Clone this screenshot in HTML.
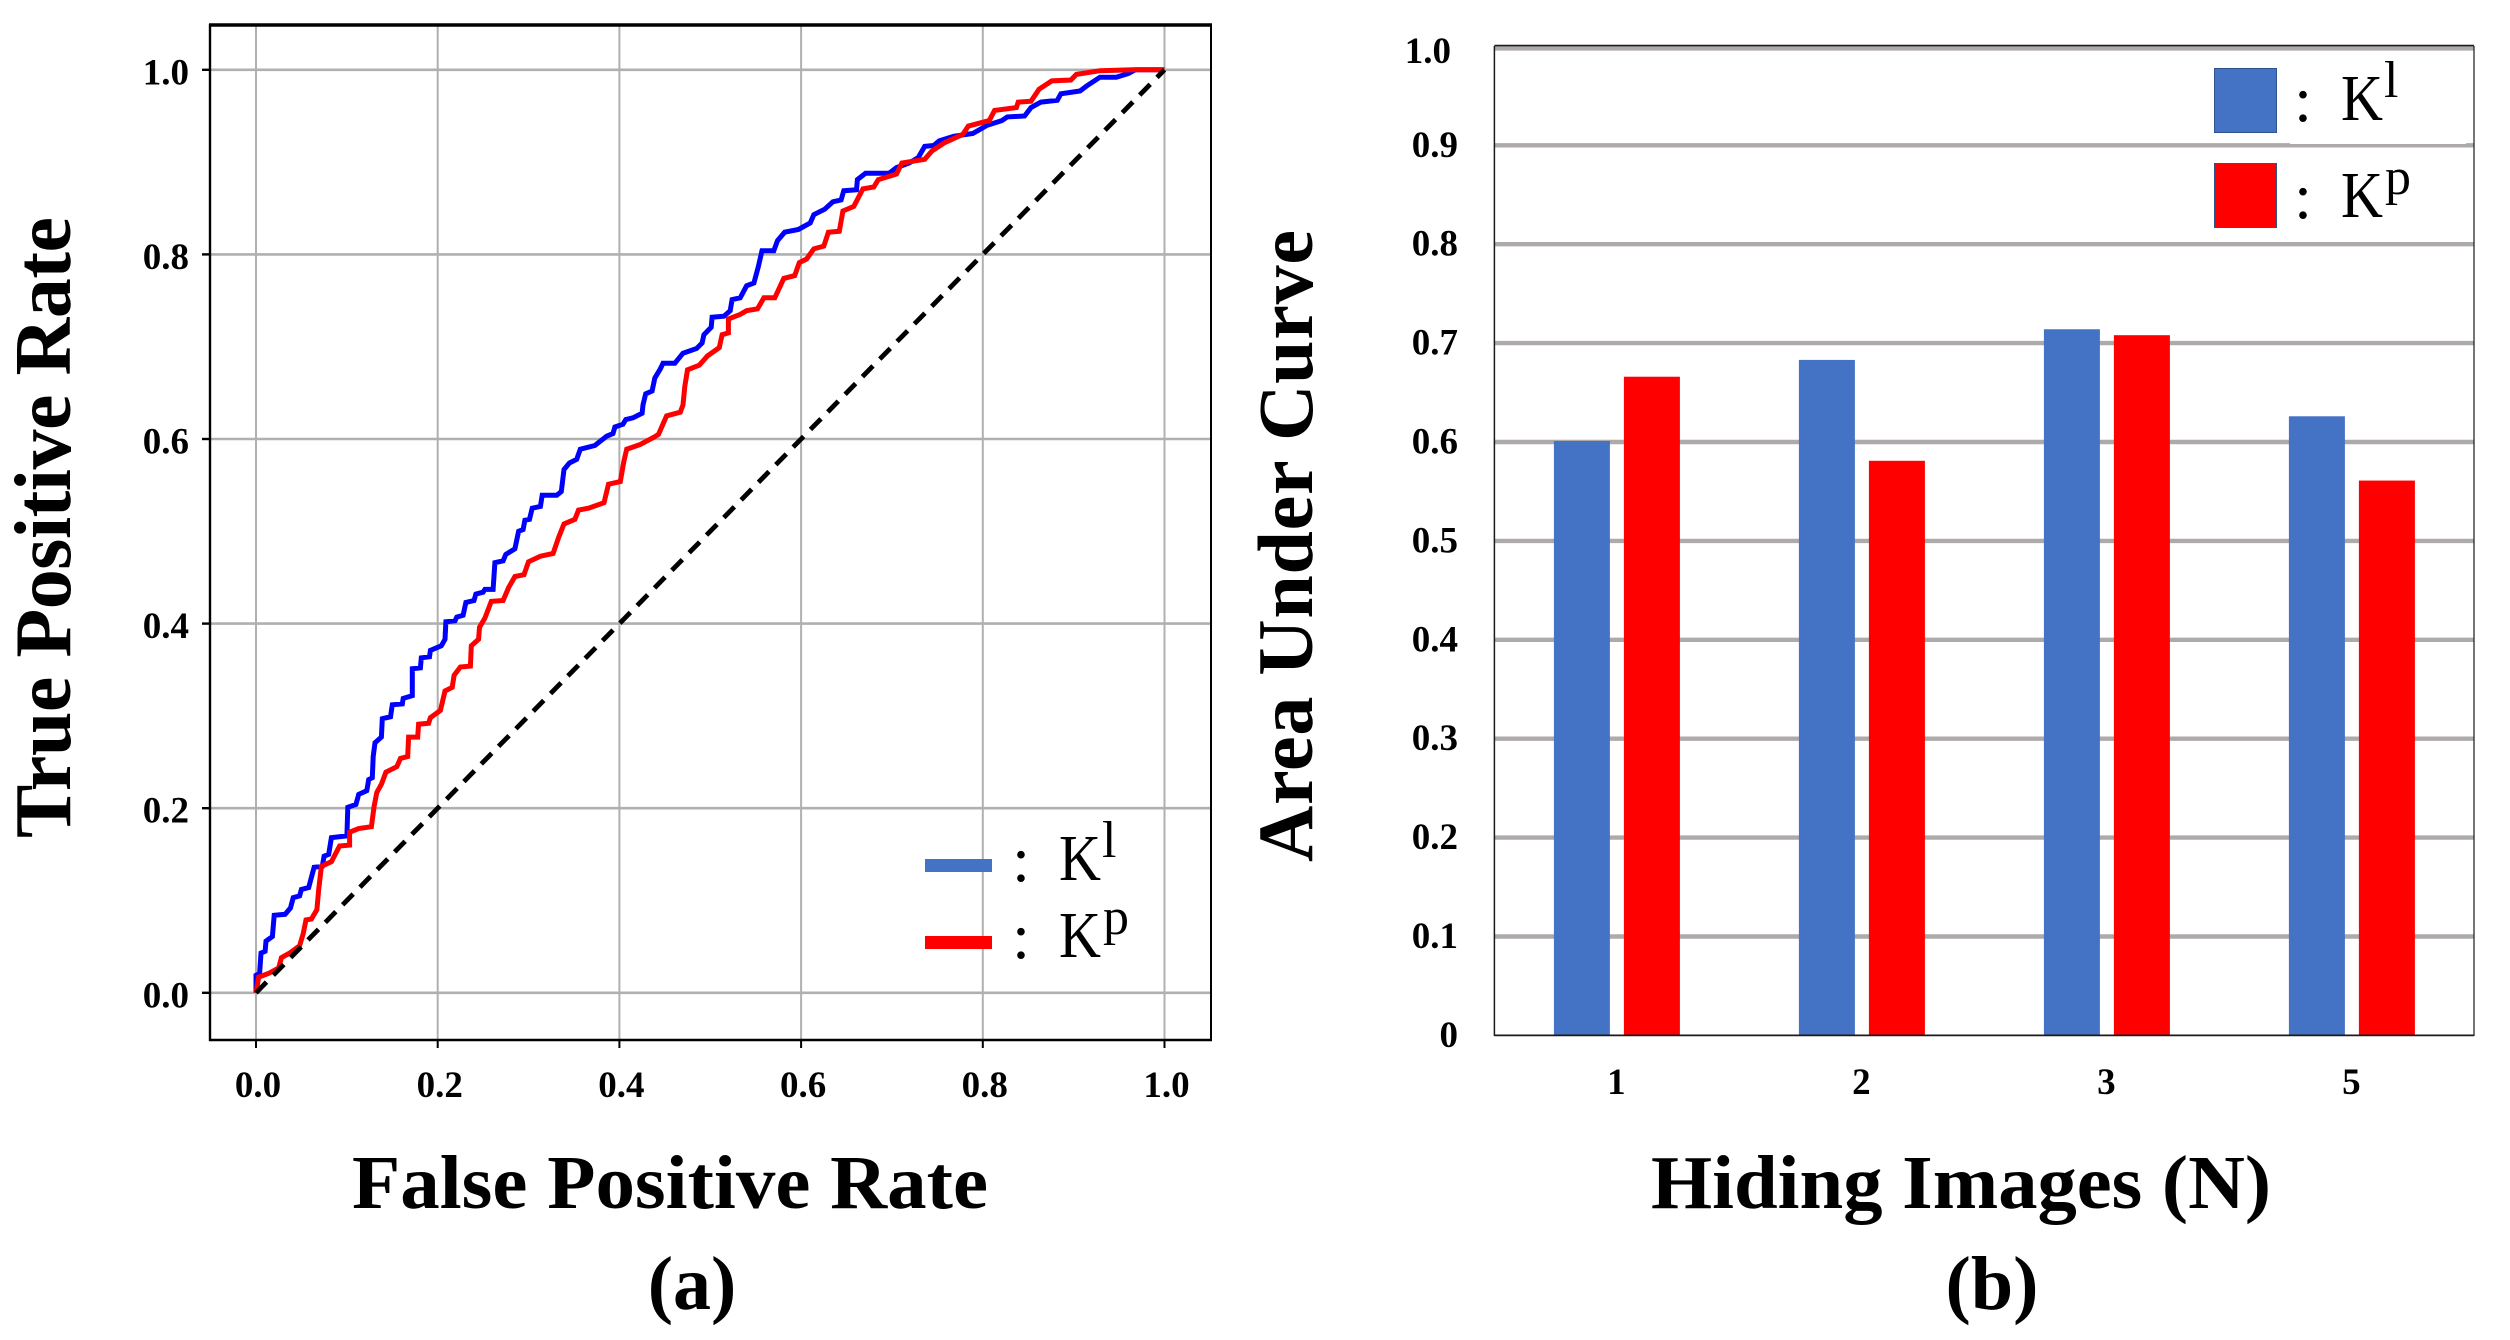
<!DOCTYPE html>
<html lang="en">
<head>
<meta charset="utf-8">
<title>ROC curves and AUC by hiding images</title>
<style>
html,body{margin:0;padding:0;background:#fff;}
svg{display:block;}
text{font-family:"Liberation Serif",serif;fill:#000;}
.b{font-weight:bold;}
</style>
</head>
<body>
<svg id="chart" xmlns="http://www.w3.org/2000/svg" width="2510" height="1340" viewBox="0 0 2510 1340">
  <rect x="0" y="0" width="2510" height="1340" fill="#ffffff"/>
  <g id="panelA"></g>
  <g id="panelB"></g>

  <text class="b" x="352" y="1208" font-size="76" textLength="636" lengthAdjust="spacingAndGlyphs">False Positive Rate</text>
  <text class="b" transform="translate(70,838) rotate(-90)" x="0" y="0" font-size="80" textLength="621" lengthAdjust="spacing">True Positive Rate</text>
  <text class="b" x="692" y="1309" font-size="76" text-anchor="middle">(a)</text>

  <text class="b" x="1651" y="1208" font-size="76" textLength="620" lengthAdjust="spacingAndGlyphs">Hiding Images (N)</text>
  <text class="b" transform="translate(1312,862) rotate(-90)" x="0" y="0" font-size="78" textLength="632" lengthAdjust="spacing">Area Under Curve</text>
  <text class="b" x="1992" y="1309" font-size="76" text-anchor="middle">(b)</text>
</svg>

<script>
// ROC chart data
const rocTicks = [0, 0.2, 0.4, 0.6, 0.8, 1.0];
const rocTickLabels = ["0.0", "0.2", "0.4", "0.6", "0.8", "1.0"];
const klFpr = [0,0,.004,.0055,.010,.011,.018,.020,.032,.038,.041,.048,.050,.058,.061,.064,.073,.075,.080,.083,.100,.101,.110,.113,.122,.124,.128,.129,.131,.138,.139,.148,.150,.161,.162,.172,.172,.181,.182,.191,.192,.204,.208,.209,.219,.221,.228,.231,.240,.242,.250,.252,.261,.263,.272,.275,.285,.289,.294,.296,.301,.304,.313,.315,.331,.336,.339,.345,.353,.357,.373,.386,.393,.395,.404,.407,.415,.425,.426,.429,.436,.439,.445,.448,.461,.470,.485,.491,.493,.501,.502,.515,.522,.524,.533,.540,.548,.553,.557,.570,.574,.582,.597,.610,.614,.626,.635,.644,.647,.661,.662,.671,.697,.705,.719,.729,.736,.746,.752,.768,.782,.789,.805,.821,.827,.846,.853,.864,.882,.886,.907,.915,.929,.947,.960,.968,1];
const klTpr = [0,.019,.021,.043,.045,.056,.061,.084,.085,.092,.103,.105,.112,.114,.125,.136,.137,.148,.150,.168,.170,.201,.204,.215,.219,.231,.233,.256,.271,.277,.297,.299,.312,.313,.319,.322,.351,.352,.363,.364,.371,.376,.383,.402,.403,.407,.409,.423,.425,.432,.434,.437,.437,.466,.468,.475,.481,.500,.502,.512,.513,.525,.527,.539,.539,.543,.567,.574,.578,.589,.593,.603,.606,.613,.616,.621,.623,.628,.637,.649,.652,.666,.676,.682,.682,.693,.698,.704,.713,.721,.732,.733,.739,.751,.753,.766,.769,.787,.804,.804,.815,.824,.827,.834,.843,.849,.857,.859,.869,.870,.881,.888,.888,.894,.899,.905,.917,.918,.923,.928,.930,.931,.940,.945,.949,.950,.959,.965,.967,.974,.977,.983,.992,.992,.996,1,1];
const kpFpr = [0,.003,.014,.025,.028,.037,.048,.052,.055,.061,.067,.069,.072,.083,.092,.103,.103,.113,.127,.130,.133,.138,.143,.155,.159,.167,.168,.178,.179,.190,.192,.203,.208,.216,.218,.225,.236,.237,.245,.246,.252,.259,.272,.278,.285,.295,.300,.313,.327,.333,.339,.351,.355,.366,.383,.388,.401,.405,.408,.423,.438,.443,.447,.452,.467,.470,.472,.475,.488,.497,.510,.513,.520,.520,.533,.540,.552,.559,.571,.581,.593,.598,.606,.614,.625,.630,.642,.646,.658,.668,.680,.685,.705,.711,.736,.744,.758,.778,.784,.807,.813,.837,.839,.853,.862,.876,.897,.903,.929,.965,1];
const kpTpr = [0,.017,.021,.027,.038,.043,.051,.064,.079,.080,.090,.112,.137,.142,.159,.160,.174,.178,.180,.202,.217,.226,.239,.245,.254,.256,.277,.277,.291,.292,.298,.306,.327,.331,.344,.353,.354,.376,.383,.396,.406,.424,.425,.439,.451,.453,.467,.473,.476,.493,.508,.513,.523,.525,.531,.551,.554,.576,.589,.594,.602,.605,.614,.625,.629,.637,.657,.675,.680,.690,.699,.713,.715,.730,.735,.739,.741,.753,.753,.774,.777,.791,.795,.806,.809,.824,.825,.847,.852,.871,.873,.881,.887,.899,.903,.912,.921,.930,.939,.945,.956,.959,.965,.966,.979,.988,.989,.995,.999,1,1];
const chanceFpr = [0, 1];
const chanceTpr = [0, 1];

// AUC bar chart data
const aucCategories = ["1", "2", "3", "5"];
const aucKl = [0.601, 0.683, 0.714, 0.626];
const aucKp = [0.666, 0.581, 0.708, 0.561];
const aucTicks = [0, 0.1, 0.2, 0.3, 0.4, 0.5, 0.6, 0.7, 0.8, 0.9, 1.0];
const aucTickLabels = ["0", "0.1", "0.2", "0.3", "0.4", "0.5", "0.6", "0.7", "0.8", "0.9", "1.0"];

const NS = "http://www.w3.org/2000/svg";
function make(parent, tag, props, content) {
  const node = document.createElementNS(NS, tag);
  for (const k in props) node.setAttribute(k, props[k]);
  if (content !== undefined) node.textContent = content;
  parent.appendChild(node);
  return node;
}

/* ---------- panel A: ROC ---------- */
const A = document.getElementById("panelA");
const ax = v => 256 + v * 908.5;
const ay = v => 992.8 - v * 923;
const GRID_A = "#b0b0b0";

rocTicks.forEach((t, i) => {
  const gv = make(A, "line", {x1: ax(t), x2: ax(t), y1: 25, y2: 1040, stroke: GRID_A, "stroke-width": 2});
  
  
  const gh = make(A, "line", {x1: 210, x2: 1211, y1: ay(t), y2: ay(t), stroke: GRID_A, "stroke-width": 2.6});
  
  
  const tx = make(A, "line", {x1: ax(t), x2: ax(t), y1: 1040, y2: 1048, stroke: "#000", "stroke-width": 2});
  
  
  const ty = make(A, "line", {x1: 202, x2: 210, y1: ay(t), y2: ay(t), stroke: "#000", "stroke-width": 2.4});
  
  
  const lx = make(A, "text", {x: ax(t) + 2, y: 1097, "text-anchor": "middle", "font-size": 37, class: "b"}, rocTickLabels[i]);
  
  
  const ly = make(A, "text", {x: 189, y: ay(t) + 14.5, "text-anchor": "end", "font-size": 37, class: "b"}, rocTickLabels[i]);
  
  
});

const pts = (xs, ys) => xs.map((x, i) => ax(x).toFixed(1) + "," + ay(ys[i]).toFixed(1)).join(" ");

const klLine = make(A, "polyline", {points: pts(klFpr, klTpr), fill: "none", stroke: "#0000ff", "stroke-width": 5, "stroke-linejoin": "miter"});


const kpLine = make(A, "polyline", {points: pts(kpFpr, kpTpr), fill: "none", stroke: "#ff0000", "stroke-width": 5, "stroke-linejoin": "miter"});


const chance = make(A, "polyline", {points: pts(chanceFpr, chanceTpr), fill: "none", stroke: "#000", "stroke-width": 4.8, "stroke-dasharray": "15 9.7"});



const frameA = [
  ["roc-spine-left", {x1: 210, x2: 210, y1: 24, y2: 1041, "stroke-width": 2.4}],
  ["roc-spine-right", {x1: 1211, x2: 1211, y1: 24, y2: 1041, "stroke-width": 2}],
  ["roc-spine-top", {x1: 209, x2: 1212, y1: 25, y2: 25, "stroke-width": 3.4}],
  ["roc-spine-bottom", {x1: 209, x2: 1212, y1: 1040, y2: 1040, "stroke-width": 2.6}]
];
frameA.forEach(f => {
  const s = make(A, "line", Object.assign({stroke: "#000"}, f[1]));
  
  
});

/* ---------- panel B: AUC ---------- */
const B = document.getElementById("panelB");
const BAND = 245;
const bx0 = 1494.4;
const by = v => 1035.4 - v * 989;
const GRID_B = "#aeaaaa";

aucTicks.forEach((t, i) => {
  if (t > 0) {
    const g = make(B, "line", {x1: bx0, x2: 2474, y1: by(t) + (t === 1 ? 2 : 0), y2: by(t) + (t === 1 ? 2 : 0), stroke: GRID_B, "stroke-width": 4.4});
    
    
  }
  const top = t === 1;
  const l = make(B, "text", {x: top ? 1451 : 1458, y: by(t) + (top ? 16.5 : 11.5), "text-anchor": "end", "font-size": 37, class: "b"}, aucTickLabels[i]);
  
  
});

const legendMask = make(B, "rect", {x: 2290, y: 60, width: 176, height: 84, fill: "#fff"});



aucCategories.forEach((c, i) => {
  const centre = bx0 + BAND * (i + 0.5);
  const b1 = make(B, "rect", {x: centre - 63, y: by(aucKl[i]), width: 56, height: by(0) - by(aucKl[i]), fill: "#4472c4"});
  
  
  const b2 = make(B, "rect", {x: centre + 7, y: by(aucKp[i]), width: 56, height: by(0) - by(aucKp[i]), fill: "#ff0000"});
  
  
  const l = make(B, "text", {x: centre - 0.5, y: 1094, "text-anchor": "middle", "font-size": 37, class: "b"}, c);
  
  
});

const frameB = [
  ["auc-spine-left", {x1: bx0, x2: bx0, y1: 46, y2: 1036, "stroke-width": 1.5}],
  ["auc-spine-right", {x1: 2474, x2: 2474, y1: 46, y2: 1036, "stroke-width": 1.2}],
  ["auc-spine-top", {x1: bx0, x2: 2474, y1: 45.6, y2: 45.6, "stroke-width": 1.6}],
  ["auc-spine-bottom", {x1: bx0, x2: 2474, y1: 1035.4, y2: 1035.4, "stroke-width": 1.8}]
];
frameB.forEach(f => {
  const s = make(B, "line", Object.assign({stroke: "#1a1a1a"}, f[1]));
  
  
});

/* ---------- legends ---------- */
function legendText(parent, kX, base, supX, sup, prefix) {
  const colon = make(parent, "text", {x: kX - 39, y: base + 1, "text-anchor": "middle", "font-size": 65}, ":");
  
  
  const k = make(parent, "text", {x: kX - 1, y: base, "font-size": 66, textLength: 42, lengthAdjust: "spacingAndGlyphs"}, "K");
  
  
  const s = make(parent, "text", {x: supX, y: base - 23, "font-size": 52}, sup);
  
  
}

const la1 = make(A, "rect", {x: 925, y: 859, width: 67, height: 13, fill: "#4472c4"});


const la2 = make(A, "rect", {x: 925, y: 936, width: 67, height: 13, fill: "#ff0000"});


legendText(A, 1060, 880, 1102, "l", "roc-kl");
legendText(A, 1060, 957, 1103, "p", "roc-kp");

const lb1 = make(B, "rect", {x: 2214.5, y: 68.5, width: 62, height: 64, fill: "#4472c4", stroke: "#2f528f", "stroke-width": 1});


const lb2 = make(B, "rect", {x: 2214.5, y: 163.5, width: 62, height: 64, fill: "#ff0000", stroke: "#2f528f", "stroke-width": 1});


legendText(B, 2342, 120, 2384, "l", "auc-kl");
legendText(B, 2342, 217, 2385, "p", "auc-kp");
</script>
</body>
</html>
